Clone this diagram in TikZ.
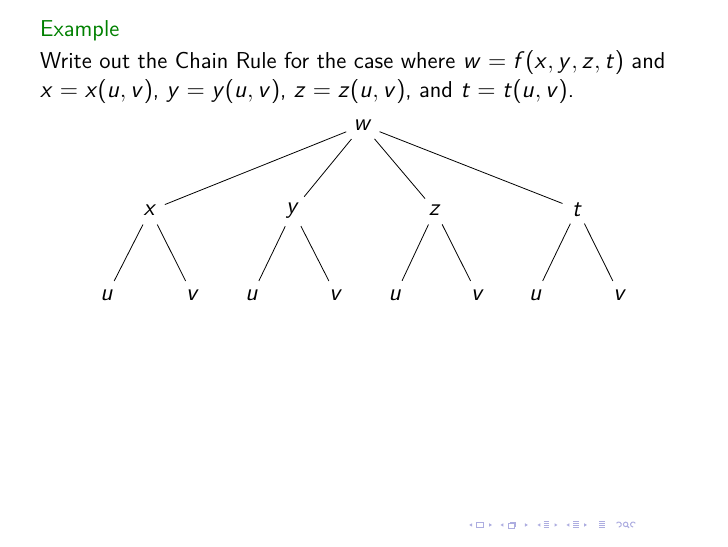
\documentclass[tikz,border=0pt]{standalone}
\usepackage{tikz}
% sans slanted math letters, as on the slide
\DeclareSymbolFont{sfslant}{OT1}{cmss}{m}{sl}
\SetSymbolFont{operators}{normal}{OT1}{cmss}{m}{n}
\DeclareMathSymbol{w}{\mathalpha}{sfslant}{`w}
\DeclareMathSymbol{f}{\mathalpha}{sfslant}{`f}
\DeclareMathSymbol{x}{\mathalpha}{sfslant}{`x}
\DeclareMathSymbol{y}{\mathalpha}{sfslant}{`y}
\DeclareMathSymbol{z}{\mathalpha}{sfslant}{`z}
\DeclareMathSymbol{t}{\mathalpha}{sfslant}{`t}
\DeclareMathSymbol{u}{\mathalpha}{sfslant}{`u}
\DeclareMathSymbol{v}{\mathalpha}{sfslant}{`v}
\definecolor{navcol}{rgb}{0.68,0.68,0.88}
\tikzset{var/.style={circle,inner sep=2.5pt},
         txt/.style={anchor=base west,inner sep=0pt}}

\begin{document}
\begin{tikzpicture}[font=\sffamily\fontsize{11.5}{14}\selectfont]
    \useasboundingbox (0,0) rectangle (12.8,9.6);
    \node[txt,text=green!50!black] (title) at (0.70,8.96) {Example};
    \node[txt] (line1) at (0.70,8.40) {Write out the Chain Rule for the case where $w=f(x,y,z,t)$ and};
    \node[txt] (line2) at (0.70,7.89) {$x=x(u,v)$, $y=y(u,v)$, $z=z(u,v)$, and $t=t(u,v)$.};

    % the tree
    \node[var] (w) at (6.38,7.40) {$w$};
    \node[var] (x) at (2.64,5.90) {$x$};
    \node[var] (y) at (5.15,5.90) {$y$};
    \node[var] (z) at (7.65,5.90) {$z$};
    \node[var] (t) at (10.15,5.92) {$t$};
    \node[var] (xu) at (1.88,4.41) {$u$};
    \node[var] (xv) at (3.39,4.41) {$v$};
    \node[var] (yu) at (4.43,4.41) {$u$};
    \node[var] (yv) at (5.91,4.41) {$v$};
    \node[var] (zu) at (6.95,4.41) {$u$};
    \node[var] (zv) at (8.40,4.41) {$v$};
    \node[var] (tu) at (9.42,4.41) {$u$};
    \node[var] (tv) at (10.90,4.41) {$v$};
    \draw (w) -- (x);
    \draw (w) -- (y);
    \draw (w) -- (z);
    \draw (w) -- (t);
    \draw (x) -- (xu);
    \draw (x) -- (xv);
    \draw (y) -- (yu);
    \draw (y) -- (yv);
    \draw (z) -- (zu);
    \draw (z) -- (zv);
    \draw (t) -- (tu);
    \draw (t) -- (tv);

    % navigation symbols
    \foreach \p in {8.28,8.83,9.48,9.99}
      \fill[navcol] (\p-0.03,0.37) -- (\p+0.02,0.40) -- (\p+0.02,0.34) -- cycle;
    \foreach \p in {8.62,9.25,9.77,10.29}
      \fill[navcol] (\p+0.03,0.37) -- (\p-0.02,0.40) -- (\p-0.02,0.34) -- cycle;
    \draw[navcol,line width=0.5pt] (8.38,0.32) rectangle (8.50,0.42);
    \draw[navcol,line width=0.5pt] (8.94,0.31) rectangle (9.04,0.39);
    \draw[navcol,line width=0.5pt] (8.97,0.39) -- (8.97,0.42) -- (9.07,0.42) -- (9.07,0.34) -- (9.04,0.34);
    \foreach \p in {9.61,10.13,10.58}
      \foreach \h in {0.32,0.355,0.39,0.425}
        \draw[navcol,line width=0.4pt] (\p-0.05,\h) -- (\p+0.05,\h);
    \draw[navcol,line width=0.5pt] (10.84,0.40) arc (150:-90:0.045);
    \draw[navcol,line width=0.5pt] (11.00,0.38) circle (0.04);
    \draw[navcol,line width=0.6pt] (11.03,0.35) -- (11.06,0.32);
    \draw[navcol,line width=0.5pt] (11.17,0.40) arc (30:270:0.045);
\end{tikzpicture}
\end{document}
